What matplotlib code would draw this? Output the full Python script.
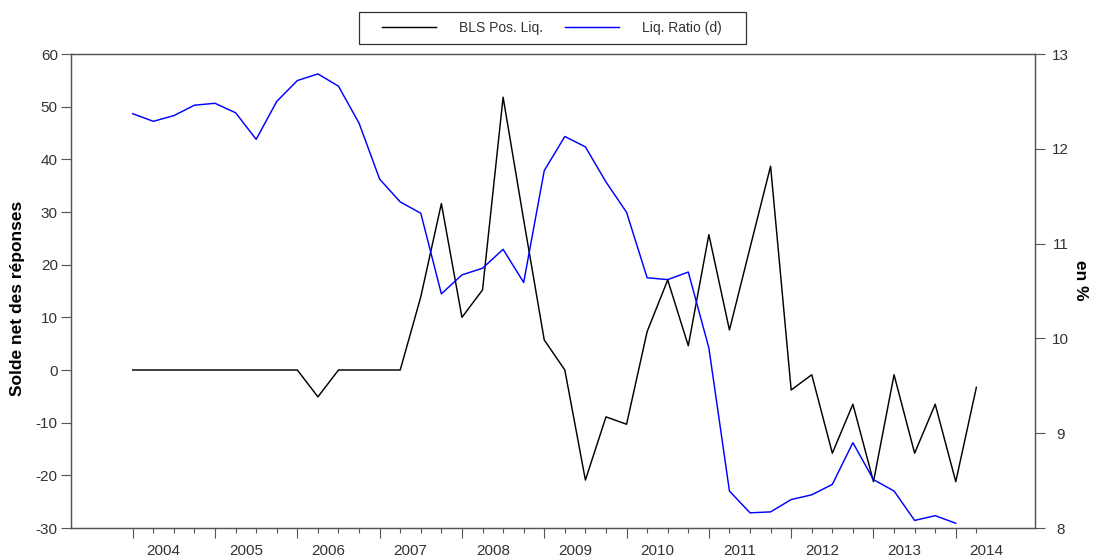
import matplotlib
matplotlib.use("Agg")
import matplotlib.pyplot as plt
import matplotlib.transforms as mtransforms
from matplotlib.patches import Rectangle

plt.rcParams["font.family"] = ["Liberation Sans", "DejaVu Sans"]
plt.rcParams["axes.unicode_minus"] = False

# quarterly data, 2004Q1 -> 2014Q2
YEARS = list(range(2004, 2015))
BLS_POS_LIQ = [0, 0, 0, 0, 0, 0, 0, 0, 0, -5.1, 0, 0, 0, 0,
               13.9, 31.6, 10.0, 15.2, 51.8, 28.5, 5.7, 0, -20.9, -8.9,
               -10.3, 7.3, 17.1, 4.6, 25.7, 7.6, 23.2, 38.7, -3.8, -0.9,
               -15.8, -6.5, -21.2, -0.9, -15.8, -6.5, -21.2, -3.3]
LIQ_RATIO = [12.37, 12.29, 12.35, 12.46, 12.48, 12.38, 12.10, 12.50, 12.72, 12.79,
             12.66, 12.27, 11.68, 11.44, 11.32, 10.47, 10.67, 10.74, 10.94, 10.59,
             11.77, 12.13, 12.02, 11.65, 11.33, 10.64, 10.62, 10.70, 9.90, 8.39,
             8.16, 8.17, 8.30, 8.35, 8.46, 8.90, 8.51, 8.39, 8.08, 8.13, 8.05]

GRAY = "#555555"
TXT = "#333333"

fig = plt.figure(figsize=(10.95, 5.58), dpi=100)
ax = fig.add_axes([71 / 1095, 30 / 558, 964 / 1095, 474 / 558])
ax2 = ax.twinx()

x_bls = list(range(len(BLS_POS_LIQ)))
x_liq = list(range(len(LIQ_RATIO)))
l1, = ax.plot(x_bls, BLS_POS_LIQ, color="black", lw=1.05, label="BLS Pos. Liq.")
l2, = ax2.plot(x_liq, LIQ_RATIO, color="#0000ff", lw=1.05, label="Liq. Ratio (d)")

ax.set_xlim(-3, 43.85)
ax.set_ylim(-30, 60)
ax2.set_ylim(8, 13)
ax.set_yticks(range(-30, 61, 10))
ax2.set_yticks(range(8, 14))

for a in (ax, ax2):
    for s in a.spines.values():
        s.set_color(GRAY)
        s.set_linewidth(0.9)

ax.tick_params(axis="y", direction="out", length=7.5, width=0.8, color=GRAY,
               labelsize=11, labelcolor=TXT, pad=2)
ax2.tick_params(axis="y", direction="out", length=7.2, width=0.8, color=GRAY,
                labelsize=11, labelcolor=TXT, pad=11.3)
for lab in ax2.get_yticklabels():
    lab.set_horizontalalignment("center")

# x axis: long ticks at each year's Q1, short ticks each quarter
n_q = len(BLS_POS_LIQ)
ax.set_xticks(list(range(0, n_q, 4)))
ax.set_xticklabels([])
ax.set_xticks(list(range(n_q)), minor=True)
ax.tick_params(axis="x", which="major", direction="out", length=7, width=0.8, color=GRAY)
ax.tick_params(axis="x", which="minor", direction="out", length=3.6, width=0.8, color=GRAY)

trans = mtransforms.blended_transform_factory(ax.transData, ax.transAxes)
for k, yr in enumerate(YEARS):
    ax.text(4 * k + 1.5, -0.0475, str(yr), transform=trans, ha="center", va="center",
            fontsize=11, color=TXT)

fig.text(18 / 1095, 1 - 298 / 558, "Solde net des réponses", rotation=90,
         ha="center", va="center", fontsize=12.5, fontweight="bold", color="black")
fig.text(1081 / 1095, 1 - 280 / 558, "en %", rotation=270,
         ha="center", va="center", fontsize=12.5, fontweight="bold", color="black")

# legend box on top
fig.patches.append(Rectangle((359 / 1095, 1 - 44 / 558), 387 / 1095, 32 / 558,
                             transform=fig.transFigure, facecolor="white",
                             edgecolor="#333333", lw=0.9, zorder=1))
leg = fig.legend(handles=[l1, l2], loc="center", bbox_to_anchor=(552 / 1095, 1 - 28 / 558),
                 ncol=2, frameon=False, fontsize=10, handlelength=3.9,
                 handletextpad=1.65, columnspacing=1.6)
for t in leg.get_texts():
    t.set_color(TXT)

fig.savefig("out.png", dpi=100)
